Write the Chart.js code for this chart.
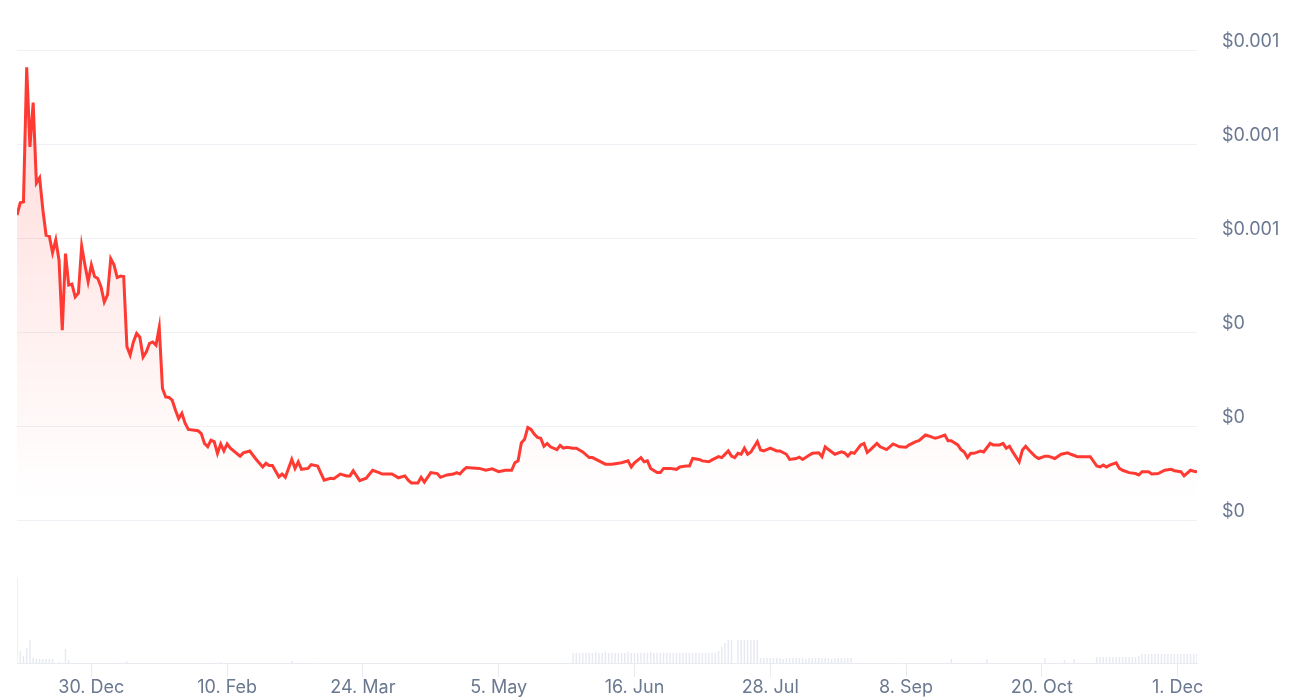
<!DOCTYPE html>
<html>
<head>
<meta charset="utf-8">
<script src="https://cdn.jsdelivr.net/npm/chart.js@4.4.1/dist/chart.umd.min.js"></script>
<style>
  html, body { margin: 0; padding: 0; background: #fff; }
</style>
</head>
<body>
<canvas id="priceChart" width="1296" height="700"></canvas>
<script>
// days counted from 7. Dec (day 0) to 7. Dec next year (day 365)
const days = [
  0,1,2,3,4,5,6,7,8,9,10,11,12,13,14,15,16,17,18,19,20,21,22,23,24,25,26,27,28,29,
  30,31,32,33,34,35,36,37,38,39,40,41,42,43,44,45,46,47,48,49,50,51,52,53,56,57,58,59,60,61,
  62,63,64,65,66,69,70,72,74,76,77,78,79,81,82,83,85,86,87,88,90,91,93,95,97,98,100,102,103,104,
  106,108,110,112,113,116,118,120,121,122,124,125,126,128,130,131,133,135,136,137,138,139,141,143,145,147,149,151,153,154,
  155,156,157,158,159,160,161,162,163,164,165,167,168,169,170,172,173,175,177,178,180,182,184,186,187,189,190,191,193,194,
  195,196,198,199,200,202,204,205,207,208,209,211,212,214,215,217,218,220,221,222,223,224,225,226,227,229,230,231,233,235,
  236,238,239,241,242,243,245,246,248,249,250,251,253,255,256,257,258,259,261,262,263,264,266,267,269,271,273,275,276,278,
  279,281,282,284,285,287,288,289,291,292,293,294,295,296,298,299,301,302,304,305,306,307,308,310,311,312,313,315,316,318,
  319,321,323,325,326,328,330,332,334,335,336,337,338,340,341,342,344,346,347,348,350,351,353,355,357,358,360,361,363,364,
  365
];
const prices = [
  0.000649,0.000675,0.000677,0.000963,0.000794,0.000888,0.000717,0.000728,0.000660,0.000606,0.000604,0.000569,0.000596,0.000553,0.000404,0.000567,0.000500,0.000502,0.000475,0.000483,0.000583,0.000543,0.000507,0.000543,0.000518,0.000514,0.000496,0.000464,0.000479,0.000556,
  0.000543,0.000516,0.000519,0.000518,0.000369,0.000351,0.000379,0.000397,0.000389,0.000347,0.000358,0.000376,0.000379,0.000372,0.000410,0.000280,0.000262,0.000261,0.000255,0.000234,0.000216,0.000227,0.000206,0.000193,0.000190,0.000184,0.000163,0.000156,0.000170,0.000167,
  0.000142,0.000162,0.000147,0.000162,0.000153,0.000136,0.000143,0.000147,0.000129,0.000113,0.000121,0.000116,0.000116,0.000092,0.000098,0.000091,0.000129,0.000110,0.000124,0.000108,0.000110,0.000118,0.000115,0.000085,0.000089,0.000088,0.000098,0.000094,0.000094,0.000105,
  0.000084,0.000089,0.000106,0.000101,0.000098,0.000098,0.000090,0.000094,0.000085,0.000079,0.000079,0.000091,0.000081,0.000101,0.000099,0.000091,0.000096,0.000098,0.000101,0.000098,0.000106,0.000112,0.000111,0.000110,0.000106,0.000109,0.000103,0.000106,0.000106,0.000122,
  0.000126,0.000164,0.000172,0.000197,0.000193,0.000183,0.000176,0.000174,0.000157,0.000163,0.000156,0.000150,0.000159,0.000153,0.000155,0.000153,0.000153,0.000145,0.000133,0.000133,0.000126,0.000119,0.000119,0.000121,0.000122,0.000126,0.000113,0.000122,0.000133,0.000124,
  0.000126,0.000110,0.000101,0.000101,0.000110,0.000110,0.000108,0.000113,0.000115,0.000115,0.000131,0.000129,0.000126,0.000124,0.000128,0.000135,0.000133,0.000147,0.000136,0.000133,0.000142,0.000140,0.000153,0.000140,0.000145,0.000167,0.000149,0.000147,0.000153,0.000147,
  0.000147,0.000140,0.000129,0.000131,0.000134,0.000129,0.000138,0.000142,0.000143,0.000135,0.000156,0.000150,0.000140,0.000145,0.000143,0.000136,0.000144,0.000142,0.000160,0.000163,0.000144,0.000150,0.000163,0.000156,0.000150,0.000162,0.000156,0.000155,0.000160,0.000167,
  0.000169,0.000181,0.000179,0.000174,0.000176,0.000181,0.000169,0.000169,0.000160,0.000150,0.000145,0.000133,0.000142,0.000142,0.000147,0.000145,0.000163,0.000160,0.000160,0.000163,0.000153,0.000157,0.000145,0.000124,0.000149,0.000157,0.000149,0.000135,0.000131,0.000136,
  0.000136,0.000131,0.000140,0.000143,0.000140,0.000135,0.000135,0.000135,0.000115,0.000113,0.000117,0.000113,0.000117,0.000122,0.000110,0.000106,0.000101,0.000099,0.000096,0.000103,0.000103,0.000098,0.000099,0.000106,0.000108,0.000105,0.000103,0.000094,0.000106,0.000104,
  0.000103
];

const volumeDays = [
  0,1,2,3,4,5,6,7,8,9,10,11,13,15,16,34,63,85,
  172,173,174,175,176,177,178,179,180,181,182,183,184,185,186,187,188,189,190,191,192,193,194,195,196,197,198,199,200,201,202,203,204,205,206,207,208,209,210,211,212,213,214,215,216,
  217,218,219,220,221,223,224,225,226,227,228,229,
  230,231,232,233,234,235,236,237,238,239,240,241,242,243,244,245,246,247,248,249,250,251,252,253,254,255,256,257,258,
  289,300,318,324,327,
  334,335,336,337,338,339,340,341,342,343,344,345,346,347,
  348,349,350,351,352,353,354,355,356,357,358,359,360,361,362,363,364,365
];
const volumes = [
  86000,12000,7000,15000,23000,5000,4000,4000,4000,4000,4000,4000,1000,14000,3000,1500,1000,2000,
  10000,10000,10000,10000,10000,10000,10000,11000,10000,10000,11000,10000,10000,10000,10000,10000,10000,11000,10000,10000,10000,10000,10000,10000,11000,10000,10000,10000,10000,10000,10000,10000,10000,10000,10000,10000,10000,10000,10000,10000,10000,10000,10000,10000,10000,
  12000,16000,20000,23000,23000,23000,23000,23000,23000,23000,23000,23000,
  5000,5000,5000,5000,5000,5000,5000,4000,5000,5000,5000,5000,5000,5000,4000,5000,5000,5000,5000,5000,5000,5000,4000,5000,5000,5000,5000,5000,5000,
  4000,4000,5000,3000,4000,
  6000,6000,6000,6000,6000,6000,6000,6000,6000,6000,6000,6000,6000,7000,
  9000,9000,9000,9000,9000,9000,9000,9000,9000,9000,9000,9000,9000,9000,9000,9000,9000,9000
];

const tickDays = [23, 65, 107, 149, 191, 233, 275, 317, 359];
const tickLabels = ['30. Dec', '10. Feb', '24. Mar', '5. May', '16. Jun', '28. Jul', '8. Sep', '20. Oct', '1. Dec'];
const priceTicks = [0, 0.0002, 0.0004, 0.0006, 0.0008, 0.001];

const lineColor = '#ff3a33';
const gridColor = '#eef1f5';
const labelColor = '#6a7890';

function areaFill(context) {
  const area = context.chart.chartArea;
  if (!area) return 'rgba(255,58,51,0.1)';
  const g = context.chart.ctx.createLinearGradient(0, area.top, 0, area.top + 450);
  g.addColorStop(0, 'rgba(255,58,51,0.20)');
  g.addColorStop(1, 'rgba(255,58,51,0)');
  return g;
}

const ctx = document.getElementById('priceChart').getContext('2d');
const priceChart = new Chart(ctx, {
  type: 'line',
  data: {
    datasets: [{
      type: 'line',
      label: 'Price',
      data: days.map((d, i) => ({ x: d, y: prices[i] })),
      borderColor: lineColor,
      borderWidth: 3,
      backgroundColor: areaFill,
      fill: 'origin',
      tension: 0,
      pointRadius: 0,
      yAxisID: 'y',
      order: 1
    }, {
      type: 'bar',
      label: 'Volume',
      data: volumeDays.map((d, i) => ({ x: d, y: volumes[i] })),
      backgroundColor: '#e6eaf0',
      barPercentage: 0.45,
      categoryPercentage: 1,
      yAxisID: 'y1',
      order: 2
    }]
  },
  options: {
    responsive: false,
    animation: false,
    devicePixelRatio: 1,
    layout: { padding: { left: 17, top: 50, right: 0, bottom: 0 } },
    plugins: {
      legend: { display: false },
      tooltip: { enabled: false }
    },
    scales: {
      x: {
        type: 'linear',
        min: 0,
        max: 365,
        offset: false,
        afterBuildTicks: (scale) => { scale.ticks = tickDays.map(v => ({ value: v })); },
        afterFit: (scale) => { scale.height = 37; },
        ticks: {
          autoSkip: false,
          maxRotation: 0,
          padding: 0,
          color: labelColor,
          font: { family: 'Inter', size: 18 },
          callback: (v) => tickLabels[tickDays.indexOf(v)]
        },
        grid: { drawOnChartArea: false, drawTicks: true, tickLength: 14, color: '#e8ecf1', offset: false },
        border: { display: true, color: '#e8ecf1' }
      },
      y: {
        position: 'right',
        min: -0.000304,
        max: 0.001,
        afterBuildTicks: (scale) => { scale.ticks = priceTicks.map(v => ({ value: v })); },
        afterFit: (scale) => { scale.width = 99; },
        ticks: {
          padding: 25,
          labelOffset: -8,
          color: labelColor,
          font: { family: 'Inter', size: 18 },
          callback: (v) => '$' + Number(v.toFixed(3))
        },
        grid: { color: gridColor, drawTicks: false },
        border: { display: false }
      },
      y1: {
        display: false,
        min: 0,
        max: 613000
      }
    }
  }
});
</script>
</body>
</html>
